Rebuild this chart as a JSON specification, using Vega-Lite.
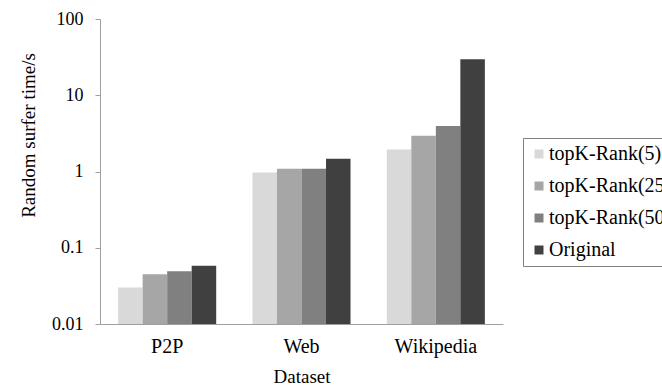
{
  "$schema": "https://vega.github.io/schema/vega-lite/v6.json",
  "autosize": {"type": "none"},
  "padding": {"left": 100, "top": 19, "right": 159, "bottom": 61},
  "width": 403,
  "height": 305,
  "background": "white",
  "config": {
    "font": "Liberation Serif",
    "axis": {"labelFont": "Liberation Serif", "titleFont": "Liberation Serif"},
    "legend": {"labelFont": "Liberation Serif"},
    "view": {"stroke": null}
  },
  "data": {
    "values": [
      {"dataset": "P2P", "method": "topK-Rank(5)", "time": 0.03},
      {"dataset": "P2P", "method": "topK-Rank(25)", "time": 0.045},
      {"dataset": "P2P", "method": "topK-Rank(50)", "time": 0.049},
      {"dataset": "P2P", "method": "Original", "time": 0.058},
      {"dataset": "Web", "method": "topK-Rank(5)", "time": 0.97},
      {"dataset": "Web", "method": "topK-Rank(25)", "time": 1.09},
      {"dataset": "Web", "method": "topK-Rank(50)", "time": 1.09},
      {"dataset": "Web", "method": "Original", "time": 1.47},
      {"dataset": "Wikipedia", "method": "topK-Rank(5)", "time": 1.95},
      {"dataset": "Wikipedia", "method": "topK-Rank(25)", "time": 2.95},
      {"dataset": "Wikipedia", "method": "topK-Rank(50)", "time": 3.95},
      {"dataset": "Wikipedia", "method": "Original", "time": 29.7}
    ]
  },
  "mark": {"type": "bar"},
  "encoding": {
    "x": {
      "field": "dataset",
      "type": "nominal",
      "sort": ["P2P", "Web", "Wikipedia"],
      "scale": {"paddingInner": 0.27, "paddingOuter": 0.135},
      "axis": {
        "title": "Dataset",
        "labelAngle": 0,
        "labelFontSize": 20,
        "labelColor": "#000",
        "labelPadding": 12,
        "ticks": false,
        "domainColor": "#a0a0a0",
        "titleFontSize": 19,
        "titleFontWeight": "normal",
        "titleColor": "#000",
        "titleY": 58,
        "titleBaseline": "alphabetic"
      }
    },
    "xOffset": {
      "field": "method",
      "type": "nominal",
      "sort": ["topK-Rank(5)", "topK-Rank(25)", "topK-Rank(50)", "Original"],
      "scale": {"paddingInner": 0, "paddingOuter": 0}
    },
    "y": {
      "field": "time",
      "type": "quantitative",
      "scale": {"type": "log", "domain": [0.01, 100], "nice": false},
      "axis": {
        "title": "Random surfer time/s",
        "values": [0.01, 0.1, 1, 10, 100],
        "format": "~g",
        "grid": false,
        "labelFontSize": 18,
        "labelColor": "#000",
        "labelPadding": 12,
        "tickSize": 5,
        "tickColor": "#a0a0a0",
        "domainColor": "#a0a0a0",
        "titleFontSize": 19,
        "titleFontWeight": "normal",
        "titleColor": "#000",
        "titleAngle": -90,
        "titleX": -72,
        "titleY": 116,
        "titleAlign": "center",
        "titleBaseline": "middle"
      }
    },
    "y2": {"datum": 0.01},
    "color": {
      "field": "method",
      "type": "nominal",
      "sort": ["topK-Rank(5)", "topK-Rank(25)", "topK-Rank(50)", "Original"],
      "scale": {
        "domain": ["topK-Rank(5)", "topK-Rank(25)", "topK-Rank(50)", "Original"],
        "range": ["#d9d9d9", "#a6a6a6", "#808080", "#404040"]
      },
      "legend": {
        "title": null,
        "orient": "none",
        "legendX": 423,
        "legendY": 119,
        "strokeColor": "#808080",
        "fillColor": "white",
        "padding": 6,
        "symbolType": "square",
        "symbolSize": 81,
        "symbolStrokeWidth": 0,
        "labelFontSize": 20,
        "labelColor": "#000",
        "labelOffset": 0,
        "labelLimit": 300,
        "rowPadding": 12
      }
    }
  }
}
